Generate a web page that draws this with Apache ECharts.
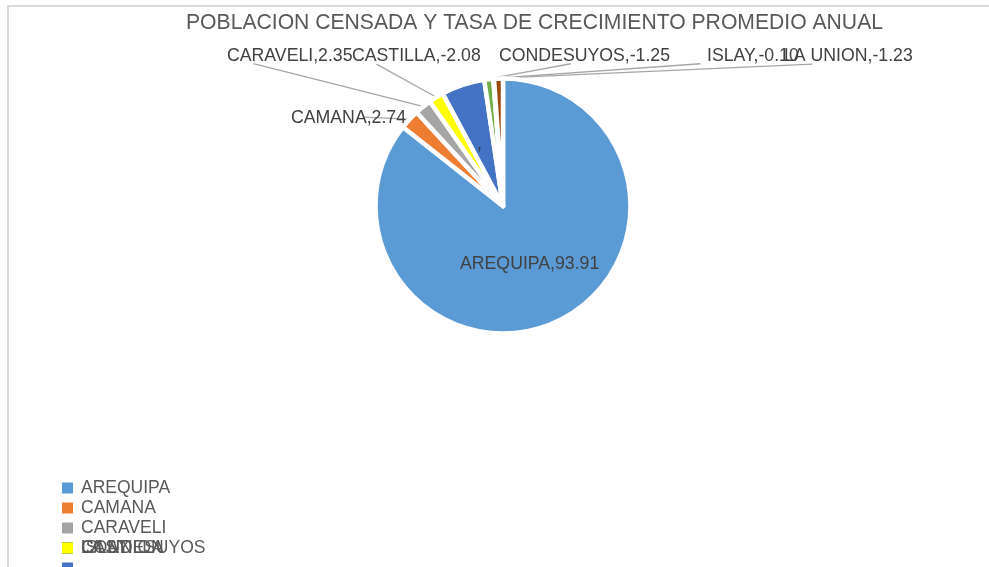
<!DOCTYPE html>
<html>
<head>
<meta charset="utf-8">
<script src="https://cdn.jsdelivr.net/npm/echarts@6/dist/echarts.min.js"></script>
<style>
  html, body { margin: 0; padding: 0; background: #fff; }
  #frame {
    position: absolute; left: 7px; top: 5px; width: 1000px; height: 600px;
    border-top: 2px solid #d9d9d9; border-left: 2px solid #d9d9d9;
  }
  #chart { position: absolute; left: 0; top: 0; width: 989px; height: 567px; }
</style>
</head>
<body>
<div id="frame"></div>
<div id="chart"></div>
<script>
  // datos
  const provincias = ['AREQUIPA', 'CAMANA', 'CARAVELI', 'CASTILLA', ' ', 'CONDESUYOS', 'ISLAY', 'LA UNION']
  const tasas = [93.91, 2.74, 2.35, -2.08, 6.0, -1.25, -0.10, -1.23]
  const colores = ['#5b9bd5', '#ed7d31', '#a5a5a5', '#ffff00', '#4472c4', '#70ad47', '#255e91', '#9e480e']

  // filas de la leyenda (las ultimas se encimaron en el original)
  const filasLeyenda = [['AREQUIPA'], ['CAMANA'], ['CARAVELI'], ['CASTILLA', 'CONDESUYOS', 'ISLAY', 'LA UNION'], [' ']]

  // posicion de etiquetas: x izq, y centro, y donde se engancha la guia (fraccion del texto)
  const etiquetaPos = {
    'AREQUIPA': { x: 460, y: 264 },
    'CAMANA': { x: 291, y: 118, guia: [0.63, 0.45] },
    'CARAVELI': { x: 227, y: 56, guia: [0.21, 0.93] },
    'CASTILLA': { x: 352, y: 56, guia: [0.19, 0.95] },
    ' ': { x: 477, y: 144 },
    'CONDESUYOS': { x: 499, y: 56, guia: [0.42, 0.93] },
    'ISLAY': { x: 707, y: 56, guia: [-0.07, 0.93] },
    'LA UNION': { x: 784, y: 56, guia: [0.22, 0.95] }
  }

  const centro = [503, 206]
  const radio = 127.5
  const fuente = 'Liberation Sans, Arial, sans-serif'
  const myChart = echarts.init(document.getElementById('chart'))

  const total = tasas.reduce(function (s, v) { return s + Math.abs(v) }, 0)

  // punto del borde de la tajada en su angulo medio
  function puntoTajada (idx) {
    let acum = 0
    for (let i = 0; i < idx; i++) acum += Math.abs(tasas[i])
    const ang = (acum + Math.abs(tasas[idx]) / 2) / total * Math.PI * 2
    const r = radio + 0.5
    return [centro[0] + r * Math.sin(ang), centro[1] - r * Math.cos(ang)]
  }

  const datos = provincias.map(function (p, i) {
    const item = {
      name: p,
      value: Math.abs(tasas[i]),
      itemStyle: { color: colores[i] }
    }
    if (!etiquetaPos[p].guia) {
      item.labelLine = { show: false }
    }
    return item
  })

  const leyendas = []
  filasLeyenda.forEach(function (fila, r) {
    fila.forEach(function (nombre, k) {
      leyendas.push({
        orient: 'vertical',
        left: 62,
        top: 479 + r * 20,
        padding: 0,
        itemWidth: 11,
        itemHeight: 11,
        icon: 'rect',
        selectedMode: false,
        z: 10 - k,
        itemStyle: { borderWidth: 0 },
        textStyle: { fontSize: 17.5, color: '#595959', fontFamily: fuente, padding: [0, 0, 0, 3] },
        data: [nombre]
      })
    })
  })

  const option = {
    backgroundColor: 'transparent',
    animation: false,
    title: {
      text: 'POBLACION CENSADA Y TASA DE CRECIMIENTO PROMEDIO ANUAL',
      left: 186,
      top: 13,
      padding: 0,
      textStyle: { fontSize: 21.15, fontWeight: 'normal', color: '#595959', fontFamily: fuente }
    },
    legend: leyendas,
    series: [
      {
        type: 'pie',
        center: centro,
        radius: radio,
        startAngle: 90,
        clockwise: true,
        avoidLabelOverlap: false,
        itemStyle: { borderColor: '#ffffff', borderWidth: 4.5 },
        label: {
          show: true,
          position: 'outside',
          color: '#404040',
          fontSize: 17.7,
          fontFamily: fuente,
          formatter: function (p) {
            const nombre = p.name.trim()
            if (!nombre) return ','
            return nombre + ',' + tasas[p.dataIndex].toFixed(2)
          }
        },
        labelLine: {
          show: true,
          lineStyle: { color: '#a6a6a6', width: 1.3 }
        },
        labelLayout: function (params) {
          const pos = etiquetaPos[provincias[params.dataIndex]]
          const res = { x: pos.x, y: pos.y, align: 'left', verticalAlign: 'middle' }
          if (pos.guia) {
            const w = params.labelRect.width
            const h = params.labelRect.height
            const fin = [pos.x + pos.guia[0] * w, pos.y - h / 2 + pos.guia[1] * h]
            const ini = puntoTajada(params.dataIndex)
            res.labelLinePoints = [ini, ini, fin]
          }
          return res
        },
        emphasis: { disabled: true },
        data: datos
      }
    ]
  }

  myChart.setOption(option)
</script>
</body>
</html>
